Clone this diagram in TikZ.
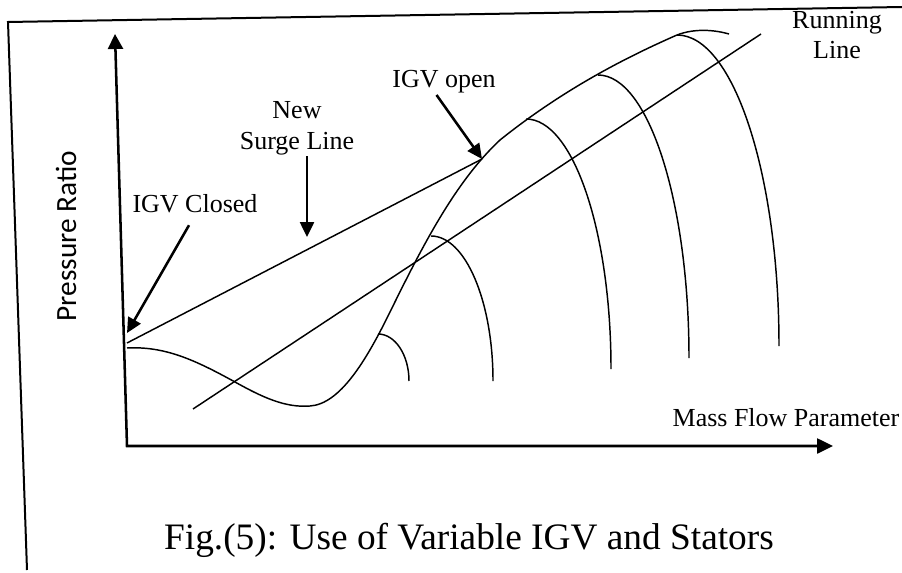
\documentclass[tikz,border=0pt]{standalone}
\usepackage{fontspec}
\setmainfont{Liberation Serif}
\newfontfamily\carlitofont{Carlito}
\usetikzlibrary{arrows.meta}

\newlength{\basisigvmap}
\setlength{\basisigvmap}{0.75pt}

\tikzset{
    map-label/.style={font=\fontsize{19.5}{23}\selectfont, align=center, inner sep=1pt},
    map-curve/.style={line width=1.1pt},
    map-axis/.style={line width=1.9pt, line join=miter, {Triangle[length=11.25pt,width=11.25pt]}-{Triangle[length=12pt,width=11.25pt]}},
    map-pointer/.style={line width=1.9pt, -{Triangle[length=11.25pt,width=10.5pt]}},
}

\begin{document}
\begin{tikzpicture}
    \useasboundingbox (0,0) rectangle (902\basisigvmap,572\basisigvmap);

    % top and left edge of the sheet
    \draw[line width=1.5pt] (902\basisigvmap,565\basisigvmap) -- (8\basisigvmap,550\basisigvmap) -- (27\basisigvmap,2\basisigvmap);

    % axes
    \coordinate (origin) at (127\basisigvmap,126\basisigvmap);
    \coordinate (pressure-tip) at (115\basisigvmap,538\basisigvmap);
    \coordinate (flow-tip) at (833\basisigvmap,126\basisigvmap);
    \draw[map-axis] (pressure-tip) -- (origin) -- (flow-tip);

    \draw (66\basisigvmap,336\basisigvmap) 
		node[rotate=90, inner sep=1pt, font=\carlitofont\fontsize{22}{26}\selectfont] 
			(pressure-ratio) {Pressure Ratio};

    \draw (786\basisigvmap,154\basisigvmap) 
		node[map-label] 
			(mass-flow-parameter) {Mass Flow Parameter};

    \draw (195\basisigvmap,368\basisigvmap) 
		node[map-label] 
			(igv-closed) {IGV Closed};

    \draw (297\basisigvmap,444\basisigvmap) 
		node[map-label] 
			(new-surge-line) {New\\Surge Line};

    \draw (444\basisigvmap,490\basisigvmap) 
		node[map-label] 
			(igv-open) {IGV open};

    \draw (837\basisigvmap,537\basisigvmap) 
		node[map-label] 
			(running-line) {Running\\Line};

    \draw (469\basisigvmap,32\basisigvmap) 
		node[font=\fontsize{28}{34}\selectfont] 
			(fig-caption) {Fig.(5): Use of Variable IGV and Stators};

    % end points on the curves
    \coordinate (closed-tip) at (127\basisigvmap,239\basisigvmap);
    \coordinate (open-tip) at (482\basisigvmap,413\basisigvmap);
    \coordinate (surge-tip) at (307\basisigvmap,335\basisigvmap);

    % new surge line and running line
    \draw[map-curve] (127\basisigvmap,229\basisigvmap) -- (open-tip);
    \draw[map-curve] (193\basisigvmap,163\basisigvmap) -- (761\basisigvmap,538\basisigvmap);

    % surge line with IGV scheduling
    \draw[map-curve] (127\basisigvmap,224\basisigvmap)
        .. controls (165\basisigvmap,226\basisigvmap) and (195\basisigvmap,212\basisigvmap) .. (235\basisigvmap,190\basisigvmap)
        .. controls (262\basisigvmap,175\basisigvmap) and (285\basisigvmap,164\basisigvmap) .. (310\basisigvmap,166\basisigvmap)
        .. controls (340\basisigvmap,168\basisigvmap) and (366\basisigvmap,211\basisigvmap) .. (390\basisigvmap,260\basisigvmap)
        .. controls (422\basisigvmap,325\basisigvmap) and (455\basisigvmap,390\basisigvmap) .. (500\basisigvmap,432\basisigvmap)
        .. controls (560\basisigvmap,480\basisigvmap) and (620\basisigvmap,512\basisigvmap) .. (677\basisigvmap,537\basisigvmap);

    % constant speed lines
    \foreach \sx/\sy/\rx/\ry in {378/238/31/47, 431/336/62/145, 526/453/85/250, 598/497/91/283, 677/537/102/311}
        \draw[map-curve] (\sx\basisigvmap,\sy\basisigvmap) arc[start angle=90, end angle=0, x radius=\rx\basisigvmap, y radius=\ry\basisigvmap];
    \draw[map-curve] (677\basisigvmap,537\basisigvmap) .. controls (695\basisigvmap,544\basisigvmap) and (715\basisigvmap,542\basisigvmap) .. (729\basisigvmap,538\basisigvmap);

    % pointers from the labels
    \draw[map-pointer, shorten <=12\basisigvmap] (igv-closed.south) -- (closed-tip);
    \draw[map-pointer] (new-surge-line.south -| surge-tip) -- (surge-tip);
    \draw[map-pointer] (igv-open.240) -- (open-tip);
\end{tikzpicture}
\end{document}
